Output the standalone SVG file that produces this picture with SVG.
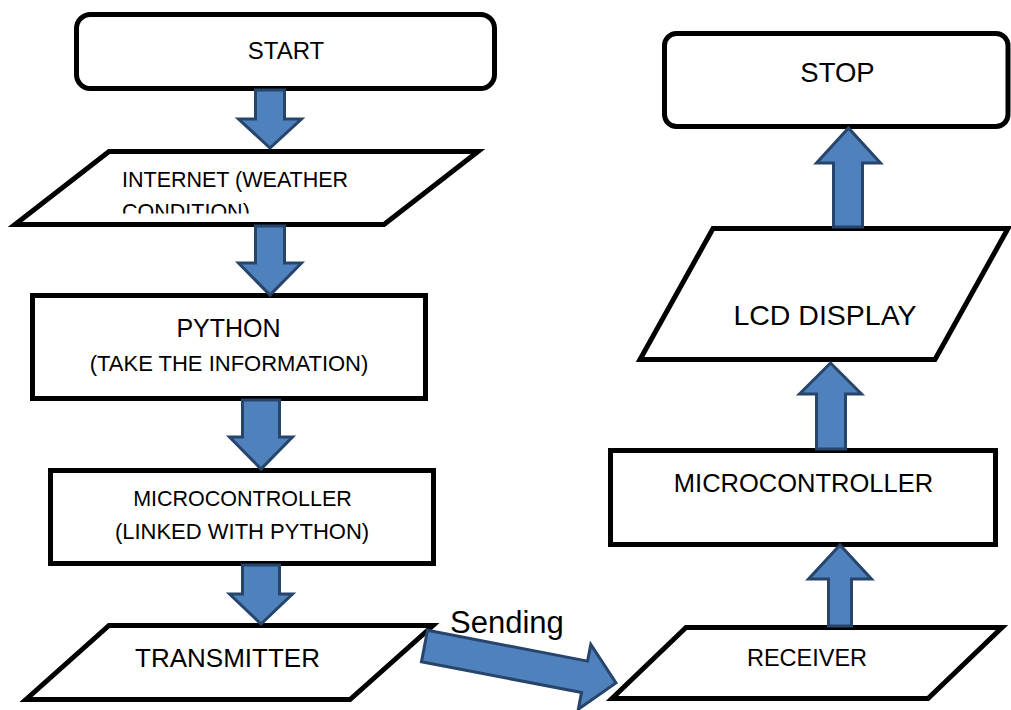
<svg xmlns="http://www.w3.org/2000/svg" width="1011" height="710" viewBox="0 0 1011 710">
<style>
.box{fill:#fff;stroke:#000;stroke-width:5;stroke-linejoin:miter}
.t{font-family:"Liberation Sans",Arial,sans-serif;fill:#000;text-anchor:middle}
.arr{fill:#4F81BD;stroke:#27446B;stroke-width:3;stroke-linejoin:miter}
</style>
<defs>
<clipPath id="clipInternet"><rect x="100" y="160" width="300" height="53.5"/></clipPath>
</defs>
<rect width="1011" height="710" fill="#fff"/>
<g id="start"><rect class="box" x="76.5" y="14.5" width="418" height="74" rx="14"/><text class="t" x="286" y="59" font-size="24">START</text></g>
<g id="internet"><polygon class="box" points="109,151.5 478,151.5 384,224.5 15,224.5"/>
<g clip-path="url(#clipInternet)"><text class="t" style="text-anchor:start" x="122" y="187" font-size="21.5">INTERNET (WEATHER</text><text class="t" style="text-anchor:start" x="122" y="218.5" font-size="21.5">CONDITION)</text></g></g>
<g id="python"><rect class="box" x="32.5" y="295.5" width="393" height="103"/><text class="t" x="228.5" y="337" font-size="25">PYTHON</text><text class="t" x="229" y="371" font-size="22">(TAKE THE INFORMATION)</text></g>
<g id="micro-left"><rect class="box" x="50.5" y="470.5" width="383" height="93"/><text class="t" x="242.5" y="506" font-size="21.5">MICROCONTROLLER</text><text class="t" x="242" y="539" font-size="22">(LINKED WITH PYTHON)</text></g>
<g id="transmitter"><polygon class="box" points="109,625.5 433,625.5 350,699.5 26,699.5"/><text class="t" x="227.5" y="667" font-size="26">TRANSMITTER</text></g>
<g id="receiver"><polygon class="box" points="686,627.5 1002,627.5 928,698.5 612,698.5"/><text class="t" x="807" y="666" font-size="23.5">RECEIVER</text></g>
<g id="micro-right"><rect class="box" x="610.5" y="450.5" width="385" height="94"/><text class="t" x="803.5" y="492" font-size="25.5">MICROCONTROLLER</text></g>
<g id="lcd"><polygon class="box" points="713,228.5 1008,228.5 935,359.5 640,359.5"/><text class="t" x="825" y="325" font-size="28.5">LCD DISPLAY</text></g>
<g id="stop"><rect class="box" x="664.5" y="33.5" width="343.5" height="93" rx="12"/><text class="t" x="837.5" y="82" font-size="27.5">STOP</text></g>
<g id="connectors">
<path class="arr" d="M255.5,90 H284.5 V119 H301.5 L270,148 L238.5,119 H255.5 Z"/>
<path class="arr" d="M255.5,226 H284.5 V263 H301.5 L270,295 L238.5,263 H255.5 Z"/>
<path class="arr" d="M242.5,400 H279.5 V437 H292.5 L261,469 L229.5,437 H242.5 Z"/>
<path class="arr" d="M242.5,565 H279.5 V594 H292.5 L261,624 L229.5,594 H242.5 Z"/>
<path class="arr" d="M828.5,626 H851.5 V579 H871.5 L840,545 L808.5,579 H828.5 Z"/>
<path class="arr" d="M816.5,449 H845.5 V394 H861.5 L830.5,363 L799.5,394 H816.5 Z"/>
<path class="arr" d="M833.5,227 H862.5 V163 H880.5 L848.5,128 L816.5,163 H833.5 Z"/>
<g transform="translate(424.5,646) rotate(10.9)"><path class="arr" d="M0,-16 H163 V-33 L195,0 L163,33 V16 H0 Z"/></g>
<text class="t" style="text-anchor:start" x="450" y="633" font-size="31">Sending</text>
</g>
</svg>
